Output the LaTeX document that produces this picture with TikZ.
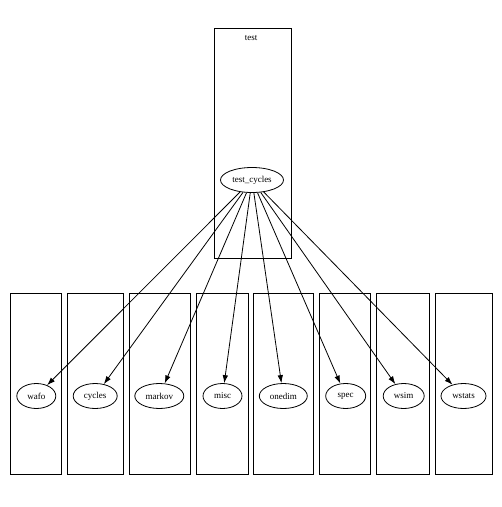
\documentclass[tikz,border=0pt]{standalone}
\usepackage{fontspec}
\setmainfont{Liberation Serif}
\usetikzlibrary{shapes.geometric,arrows.meta}

\begin{document}
\begin{tikzpicture}[x=1pt,y=-1pt,line width=0.8pt,
    modul/.style={draw,ellipse,inner sep=0pt,minimum height=25pt,font=\fontsize{9}{10}\selectfont},
    cluster/.style={draw},
    dep/.style={-{Latex[length=8pt,width=5.5pt]}}]
    \useasboundingbox (0,0) rectangle (502,507);

    % -- Cluster oben --
    \draw[cluster] (214,28) rectangle (291,258);
    \node[font=\fontsize{9}{10}\selectfont] (testlabel) at (251,38) {test};
    \node[modul,minimum width=63pt] (tc) at (252,180) {test\_cycles};

    % -- Cluster unten --
    \draw[cluster] (10.5,293.5) rectangle (61.5,474.5);
    \draw[cluster] (67.5,293.5) rectangle (123,474.5);
    \draw[cluster] (129.5,293.5) rectangle (190.5,474.5);
    \draw[cluster] (196.5,293.5) rectangle (248.5,474.5);
    \draw[cluster] (253.5,293.5) rectangle (313.5,474.5);
    \draw[cluster] (319.5,293.5) rectangle (370,474.5);
    \draw[cluster] (376.5,293.5) rectangle (429,474.5);
    \draw[cluster] (435.5,293.5) rectangle (492.5,474.5);

    % -- Module --
    \node[modul,minimum width=39pt] (wafo) at (36.3,396) {wafo};
    \node[modul,minimum width=44pt] (cycles) at (95.2,396) {cycles};
    \node[modul,minimum width=49pt] (markov) at (159.3,396) {markov};
    \node[modul,minimum width=39pt] (misc) at (222.5,396) {misc};
    \node[modul,minimum width=48pt] (onedim) at (283.3,396) {onedim};
    \node[modul,minimum width=40pt] (spec) at (345.7,396) {spec};
    \node[modul,minimum width=41pt] (wsim) at (403.7,396) {wsim};
    \node[modul,minimum width=45pt] (wstats) at (463.5,396) {wstats};

    % -- Abhaengigkeiten --
    \foreach \m in {wafo,cycles,markov,misc,onedim,spec,wsim,wstats}
        \draw[dep] (tc) -- (\m);
\end{tikzpicture}
\end{document}
